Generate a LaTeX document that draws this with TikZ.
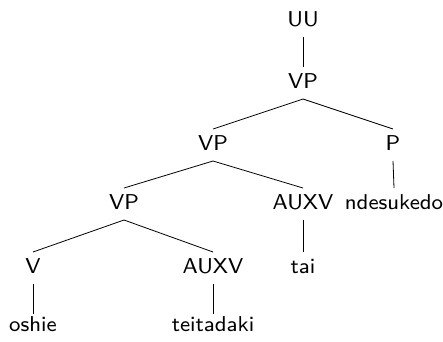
\documentclass[tikz,border=0pt]{standalone}
\usepackage{fontspec}
\newfontfamily\treefont{lmsans8-regular.otf}
\begin{document}
\begin{tikzpicture}[x=1pt,y=-1pt,
  lab/.style={anchor=base,inner sep=0pt,outer sep=0pt,
    font=\fontsize{21.5}{26}\treefont},
  branch/.style={line width=0.8pt}]
\useasboundingbox (0,0) rectangle (443,341);
% tree labels, placed by baseline
\node[lab] (uu)   at (303,26)  {UU};
\node[lab] (vpa)  at (303,88)  {VP};
\node[lab] (vpb)  at (213,150) {VP};
\node[lab] (p)    at (393,150) {P};
\node[lab] (vpc)  at (124,209) {VP};
\node[lab] (auxa) at (303,209) {AUXV};
\node[lab] (nde)  at (394,209) {ndesukedo};
\node[lab] (v)    at (33,273)  {V};
\node[lab] (auxb) at (213,273) {AUXV};
\node[lab] (tai)  at (303,273) {tai};
\node[lab] (osh)  at (33,331)  {oshie};
\node[lab] (tei)  at (213,331) {teitadaki};
% attachment points above and below each label
\foreach \n in {uu,vpa,vpb,p,vpc,auxa,nde,v,auxb,tai,osh,tei}{
  \coordinate (\n-t) at ([yshift=21pt]\n.base);
  \coordinate (\n-b) at ([yshift=-11pt]\n.base);
}
% branches
\draw[branch] (uu-b) -- (vpa-t);
\draw[branch] (vpa-b) -- (vpb-t);
\draw[branch] (vpa-b) -- (p-t);
\draw[branch] (vpb-b) -- (vpc-t);
\draw[branch] (vpb-b) -- (auxa-t);
\draw[branch] (p-b) -- (nde-t);
\draw[branch] (vpc-b) -- (v-t);
\draw[branch] (vpc-b) -- (auxb-t);
\draw[branch] (auxa-b) -- (tai-t);
\draw[branch] (v-b) -- ([yshift=-4pt]osh-t);
\draw[branch] (auxb-b) -- ([yshift=-4pt]tei-t);
\end{tikzpicture}
\end{document}
